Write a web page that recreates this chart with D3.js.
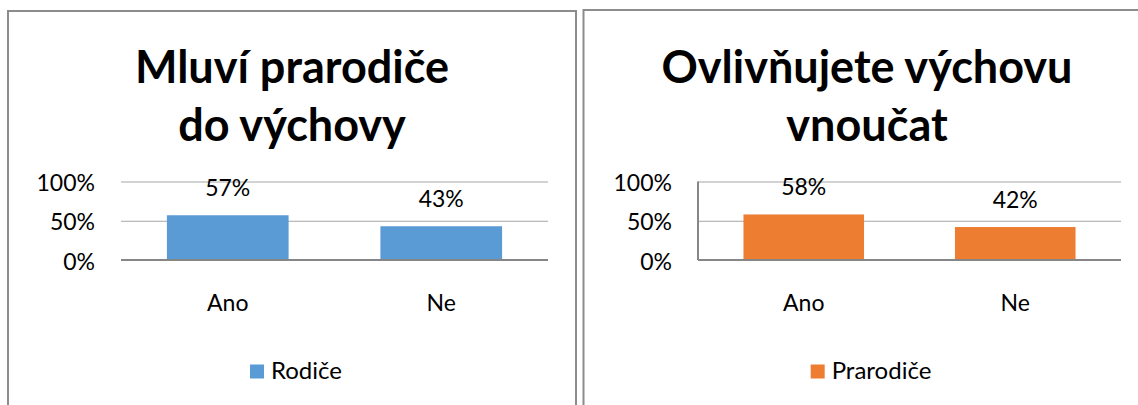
<!DOCTYPE html>
<html>
<head>
<meta charset="utf-8">
<script src="https://cdn.jsdelivr.net/npm/d3@7"></script>
<style>
  html, body { margin: 0; padding: 0; background: #fff; }
  svg { display: block; font-family: Lato, "Open Sans", sans-serif; }
</style>
</head>
<body>
<svg id="chart" width="1138" height="405"></svg>
<script>
// ---- data ----
const categories = ["Ano", "Ne"];
const rodiceValues = [0.57, 0.43];
const prarodiceValues = [0.58, 0.42];
const yTicks = [0, 0.5, 1];
const titlesLeft = ["Mluví prarodiče", "do výchovy"];
const titlesRight = ["Ovlivňujete výchovu", "vnoučat"];
const seriesNames = ["Rodiče", "Prarodiče"];
const seriesColors = ["#5B9BD5", "#ED7D31"];

const svg = d3.select("#chart");
const fmt = d3.format(".0%");

function drawChart(cfg) {
  const g = svg.append("g");
  // frame
  g.append("rect")
    .attr("x", cfg.frame[0]).attr("y", cfg.frame[1])
    .attr("width", cfg.frame[2]).attr("height", 500)
    .attr("fill", "#fff").attr("stroke", "#8c8c8c").attr("stroke-width", 2);

  // title
  g.append("text")
    .attr("text-anchor", "middle")
    .attr("font-weight", 700)
    .attr("font-size", 45)
    .attr("fill", "#000")
    .selectAll("tspan").data(cfg.title).join("tspan")
    .attr("x", cfg.center)
    .attr("y", (d, i) => 83 + i * 58)
    .text(d => d);

  const x = d3.scaleBand().domain(categories)
    .range(cfg.xRange).paddingInner(0.43).paddingOuter(0.215);
  const y = d3.scaleLinear().domain([0, 1]).range([260, 181.5]);

  // gridlines
  const yAxis = d3.axisLeft(y).tickValues(yTicks).tickFormat(fmt)
    .tickSize(-(cfg.xRange[1] - cfg.xRange[0])).tickPadding(26);
  const ga = g.append("g").attr("transform", `translate(${cfg.xRange[0]},0)`).call(yAxis);
  ga.select(".domain").remove();
  ga.selectAll(".tick line").attr("stroke", "#a6a6a6").attr("stroke-width", 1);
  ga.selectAll(".tick text")
    .attr("font-family", "Lato, sans-serif")
    .attr("font-size", 23).attr("fill", "#000").attr("dy", 9);

  // bars
  g.selectAll("rect.bar").data(cfg.values).join("rect")
    .attr("class", "bar")
    .attr("x", (d, i) => x(categories[i]))
    .attr("width", x.bandwidth())
    .attr("y", d => y(d))
    .attr("height", d => y(0) - y(d))
    .attr("fill", cfg.color);

  // baseline axis
  const xAxis = d3.axisBottom(x).tickSize(0).tickPadding(0);
  const gx = g.append("g").attr("transform", `translate(0,${y(0)})`).call(xAxis);
  gx.select(".domain").attr("stroke", "#868686").attr("stroke-width", 2)
    .attr("d", `M${cfg.xRange[0]},0H${cfg.xRange[1]}`);
  gx.selectAll(".tick text")
    .attr("font-family", "Lato, sans-serif")
    .attr("font-size", 23).attr("fill", "#000")
    .attr("y", 51).attr("dy", 0);

  if (cfg.vAxis) {
    g.append("line")
      .attr("x1", cfg.xRange[0]).attr("x2", cfg.xRange[0])
      .attr("y1", y(1)).attr("y2", y(0))
      .attr("stroke", "#868686").attr("stroke-width", 2);
  }

  // data labels
  g.selectAll("text.lbl").data(cfg.values).join("text")
    .attr("class", "lbl")
    .attr("text-anchor", "middle")
    .attr("font-size", 23).attr("fill", "#000")
    .attr("x", (d, i) => x(categories[i]) + x.bandwidth() / 2)
    .attr("y", d => y(d) - 19)
    .text(d => fmt(d));

  // legend
  const lg = g.append("g");
  lg.append("rect").attr("x", 0).attr("y", -14).attr("width", 14).attr("height", 14)
    .attr("fill", cfg.color);
  const lt = lg.append("text").attr("x", 21).attr("y", 0)
    .attr("font-size", 24).attr("fill", "#000").text(cfg.name);
  const w = 21 + lt.node().getComputedTextLength();
  lg.attr("transform", `translate(${cfg.center + 4 - w / 2},378.5)`);
}

drawChart({
  frame: [8, 11, 568], center: 292, title: titlesLeft,
  xRange: [121, 548], values: rodiceValues, color: seriesColors[0],
  name: seriesNames[0], vAxis: false
});
drawChart({
  frame: [583.5, 10, 568], center: 867, title: titlesRight,
  xRange: [698, 1121], values: prarodiceValues, color: seriesColors[1],
  name: seriesNames[1], vAxis: true
});
</script>
</body>
</html>
